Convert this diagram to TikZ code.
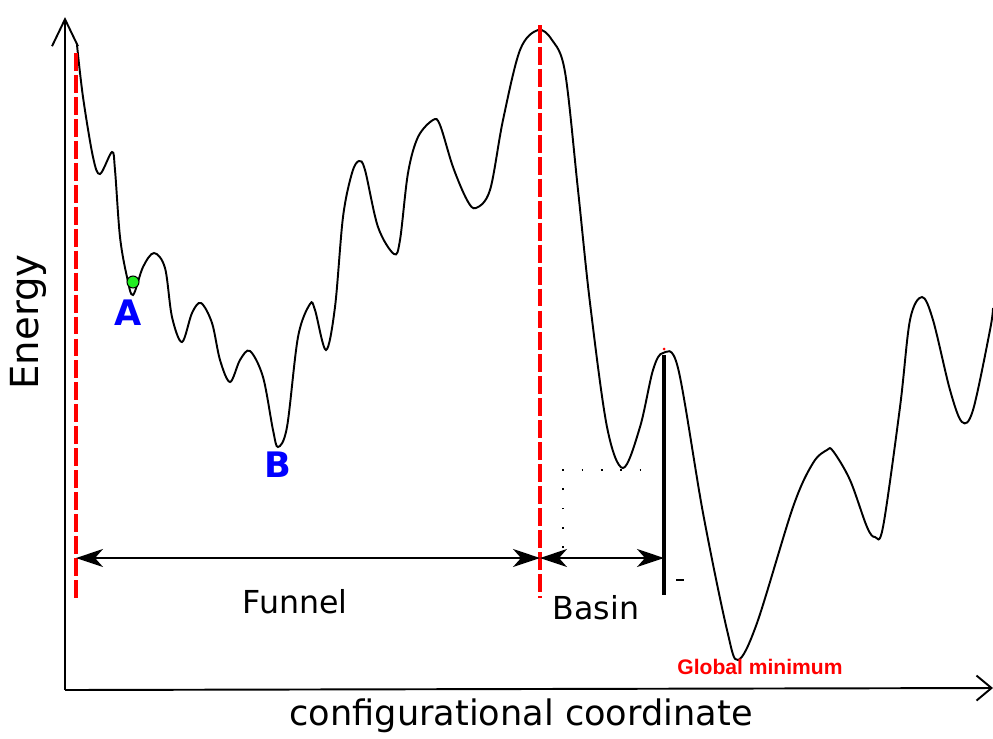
\documentclass[tikz,border=0pt]{standalone}
\usepackage{fontspec}
\setmainfont{DejaVu Sans}
\newfontfamily\minfont{Liberation Sans}
\usetikzlibrary{arrows.meta}
\definecolor{cutred}{HTML}{FF0000}
\definecolor{stateblue}{HTML}{0000FF}
\definecolor{dotgreen}{HTML}{22EE22}
\tikzset{
  axisline/.style={line width=1.1pt},
  landscape/.style={line width=1.1pt,smooth,tension=0.55},
  divider/.style={draw=cutred,line width=1.9pt,dash pattern=on 10.2pt off 2.3pt},
  span/.style={line width=1.1pt,
               {Stealth[length=5.4mm,width=3.6mm,inset=1.6mm]}-{Stealth[length=5.4mm,width=3.6mm,inset=1.6mm]}},
  statelabel/.style={text=stateblue,font=\fontsize{20}{24}\selectfont\bfseries},
  regionlabel/.style={font=\fontsize{18}{22}\selectfont},
  hint/.style={line width=0.8pt,dash pattern=on 1pt off 10pt}
}
\begin{document}
\begin{tikzpicture}[x=0.02cm,y=-0.02cm]
\useasboundingbox (0,0) rectangle (993,738);
% axes
\coordinate (origin) at (65,690);
\coordinate (ytop) at (65,17);
\coordinate (xend) at (993,688);
\draw[axisline,-{Straight Barb[length=5.4mm,width=5.2mm]}] (origin) -- (ytop);
\draw[axisline,-{Straight Barb[length=3mm,width=5mm]}] (origin) -- (xend);
\node[font=\fontsize{22}{26}\selectfont,rotate=90] (ylab) at (28,322) {Energy};
\node[font=\fontsize{20}{24}\selectfont] (xlab) at (521,716) {configurational coordinate};
% energy landscape
\draw[landscape] plot coordinates {
  (77,45) (83,97) (93,157) (100,174) (112,152) (115,170) (120,237) (127,277)
  (133,295) (143,267) (154,253) (165,268) (172,317) (182,342) (192,313)
  (201,303) (212,323) (220,360) (230,382) (240,360) (250,351) (263,377)
  (273,430) (278,447) (287,427) (298,337) (310,304) (315,310) (326,350)
  (335,307) (343,217) (352,173) (359,161) (365,170) (378,227) (394,254)
  (400,240) (408,173) (418,137) (433,120) (440,125) (453,167) (467,200)
  (476,208) (490,190) (503,120) (520,50) (538,30) (552,40) (565,72)
  (578,190) (590,303) (607,427) (623,468) (640,427) (653,370) (663,353)
  (678,368) (703,513) (727,630) (738,660) (757,623) (793,507) (813,463)
  (827,450) (833,451) (850,480) (867,527) (875,537) (883,527) (900,407)
  (910,320) (922,297) (933,320) (950,390) (962,422) (973,410) (990,330)
  (993,308)};
% funnel and basin boundaries
\coordinate (funtop) at (76,53);
\coordinate (funbot) at (76,600);
\coordinate (bartop) at (540,25);
\coordinate (barbot) at (540,598);
\draw[divider] (funtop) -- (funbot);
\draw[divider] (bartop) -- (barbot);
\coordinate (basintop) at (664,355);
\coordinate (basinbot) at (664,595);
\draw[line width=2.3pt] (basintop) -- (basinbot);
\fill[cutred] (664,349) circle (1.5);
\coordinate (funL) at (76,558);
\coordinate (funR) at (540,558);
\coordinate (basR) at (664,558);
\draw[span] (funL) -- (funR);
\draw[span] (funR) -- (basR);
\node[regionlabel] (funnel) at (295,602) {Funnel};
\node[regionlabel] (basin) at (596,608) {Basin};
% dotted hint of the basin bottom
\coordinate (hintcorner) at (563,470);
\draw[hint] (563,548) -- (hintcorner) -- (648,470);
\draw[line width=0.8pt] (676,580) -- (684,580);
% states
\fill[dotgreen,draw=black,line width=0.6pt] (133,282) circle (6);
\node[statelabel] (stateA) at (128,313) {A};
\node[statelabel] (stateB) at (278,465) {B};
\node[text=cutred,font=\minfont\fontsize{12}{14}\selectfont\bfseries] (globmin) at (760,667) {Global minimum};
\end{tikzpicture}
\end{document}
